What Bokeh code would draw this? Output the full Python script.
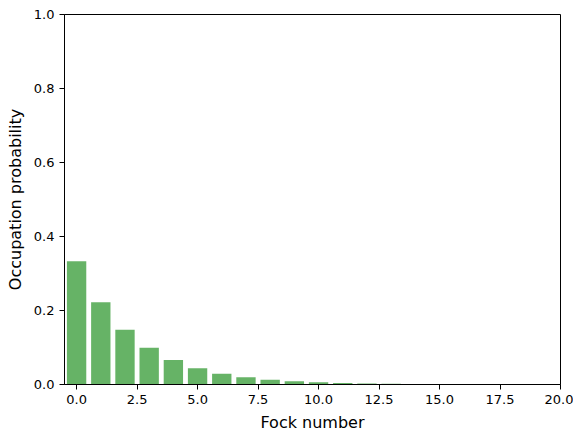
from bokeh.plotting import figure
from bokeh.embed import file_html
from bokeh.resources import INLINE
from bokeh.models import Range1d, FixedTicker, NumeralTickFormatter, LinearAxis, Spacer
from bokeh.layouts import column, row

fock = [0, 1, 2, 3, 4, 5, 6, 7, 8, 9, 10, 11, 12, 13, 14]
prob = [0.333, 0.222, 0.148, 0.099, 0.066, 0.044, 0.029, 0.0195, 0.013,
        0.0087, 0.0058, 0.0039, 0.0026, 0.0017, 0.0011]
x_ticks = [0, 2.5, 5, 7.5, 10, 12.5, 15, 17.5, 20]
y_ticks = [0, 0.2, 0.4, 0.6, 0.8, 1.0]

p = figure(frame_width=496, frame_height=370, output_backend="svg", toolbar_location=None,
           x_range=Range1d(-0.5, 20), y_range=Range1d(0, 1),
           min_border_left=58, min_border_right=13, min_border_top=7, min_border_bottom=48,
           x_axis_location=None, y_axis_location=None)
p.vbar(x=fock, top=prob, width=0.8, fill_color="green", fill_alpha=0.6, line_color=None)

def style(ax, label, ticks):
    ax.axis_label = label
    ax.ticker = FixedTicker(ticks=ticks)
    ax.formatter = NumeralTickFormatter(format="0.0")
    ax.axis_label_text_font = "DejaVu Sans"
    ax.axis_label_text_font_style = "normal"
    ax.axis_label_text_font_size = "16px"
    ax.axis_label_text_color = "black"
    ax.major_label_text_font = "DejaVu Sans"
    ax.major_label_text_font_size = "13px"
    ax.major_label_text_color = "black"
    ax.axis_line_color = "black"
    ax.major_tick_line_color = "black"
    ax.major_tick_in = 0
    ax.major_tick_out = 5
    ax.minor_tick_line_color = None
    ax.axis_label_standoff = 6

xa = LinearAxis()
style(xa, "Fock number", x_ticks)
ya = LinearAxis()
style(ya, "Occupation probability", y_ticks)
p.add_layout(xa, "below")
p.add_layout(ya, "left")
p.xgrid.visible = False
p.ygrid.visible = False
p.outline_line_color = "black"
p.outline_line_alpha = 1
p.border_fill_color = "white"

layout = column(Spacer(height=7), row(Spacer(width=2), p))

open("out.html", "w").write(file_html(layout, INLINE))
